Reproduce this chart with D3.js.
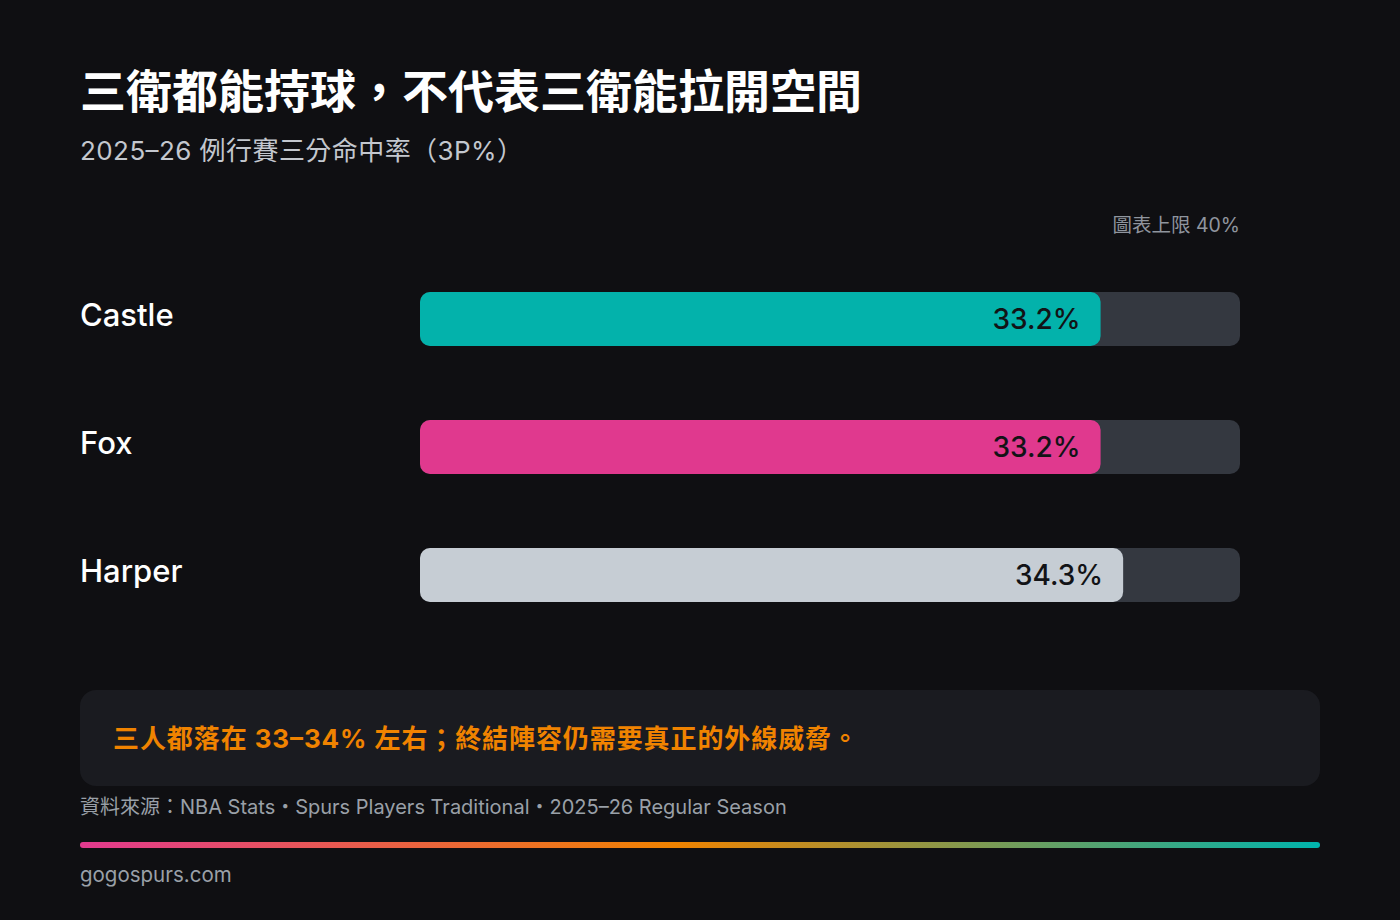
<!DOCTYPE html>
<html>
<head>
<meta charset="utf-8">
<script src="https://cdn.jsdelivr.net/npm/d3@7"></script>
<style>
  html, body { margin: 0; padding: 0; background: #0f0f12; }
  svg { display: block; }
  text { font-family: Inter, "Noto Sans CJK TC", "Noto Sans", sans-serif; }
</style>
</head>
<body>
<svg id="chart" width="1400" height="920"></svg>
<script>
const players = ["Castle", "Fox", "Harper"];
const threePct = [33.2, 33.2, 34.3];
const barColors = ["#03b2ab", "#e0398e", "#c6cdd4"];
const axisMax = 40;
const titleText = "三衛都能持球，不代表三衛能拉開空間";
const subtitleText = "2025–26 例行賽三分命中率（3P%）";
const capText = "圖表上限 40%";
const noteText = "三人都落在 33–34% 左右；終結陣容仍需要真正的外線威脅。";
const sourceText = "資料來源：NBA Stats・Spurs Players Traditional・2025–26 Regular Season";
const brandText = "gogospurs.com";

const svg = d3.select("#chart");
svg.append("rect").attr("width", 1400).attr("height", 920).attr("fill", "#0f0f12");

// Title + subtitle
svg.append("text").attr("x", 80).attr("y", 108)
  .attr("fill", "#ffffff").attr("font-size", 46).attr("font-weight", 700)
  .text(titleText);
svg.append("text").attr("x", 80).attr("y", 160)
  .attr("fill", "#c3c7ce").attr("font-size", 26)
  .attr("textLength", 443).attr("lengthAdjust", "spacing")
  .text(subtitleText);

// Scales
const x = d3.scaleLinear().domain([0, axisMax]).range([420, 1240]);
const y = d3.scaleBand().domain(players).range([292, 602]).paddingInner(74 / 128).paddingOuter(0);

svg.append("text").attr("x", x(axisMax)).attr("y", 232)
  .attr("text-anchor", "end").attr("fill", "#8f959e").attr("font-size", 19.5)
  .text(capText);

const data = players.map((p, i) => ({ name: p, value: threePct[i], color: barColors[i] }));
const rows = svg.append("g").selectAll("g").data(data).join("g");

rows.append("rect")
  .attr("x", x(0)).attr("y", d => y(d.name))
  .attr("width", x(axisMax) - x(0)).attr("height", y.bandwidth())
  .attr("rx", 10).attr("fill", "#343840");

rows.append("rect")
  .attr("x", x(0)).attr("y", d => y(d.name))
  .attr("width", d => x(d.value) - x(0)).attr("height", y.bandwidth())
  .attr("rx", 10).attr("fill", d => d.color);

rows.append("text")
  .attr("x", 80).attr("y", d => y(d.name) + 34)
  .attr("fill", "#ffffff").attr("font-size", 31).attr("font-weight", 500)
  .text(d => d.name);

rows.append("text")
  .attr("x", d => x(d.value) - 20).attr("y", d => y(d.name) + 37)
  .attr("text-anchor", "end").attr("fill", "#121316").attr("font-size", 28).attr("font-weight", 500)
  .text(d => d.value.toFixed(1) + "%");

// Callout
svg.append("rect").attr("x", 80).attr("y", 690).attr("width", 1240).attr("height", 96)
  .attr("rx", 16).attr("fill", "#1a1b20");
svg.append("text").attr("x", 113).attr("y", 748)
  .attr("fill", "#f08300").attr("font-size", 26).attr("font-weight", 700)
  .attr("textLength", 745).attr("lengthAdjust", "spacing")
  .text(noteText);

// Source
svg.append("text").attr("x", 80).attr("y", 814)
  .attr("fill", "#9aa0a8").attr("font-size", 20)
  .text(sourceText);

// Gradient rule
const defs = svg.append("defs");
const grad = defs.append("linearGradient").attr("id", "rule").attr("x1", "0%").attr("x2", "100%");
grad.append("stop").attr("offset", "0%").attr("stop-color", "#e23a8f");
grad.append("stop").attr("offset", "48%").attr("stop-color", "#f08300");
grad.append("stop").attr("offset", "100%").attr("stop-color", "#00b4ad");
svg.append("rect").attr("x", 80).attr("y", 842).attr("width", 1240).attr("height", 6)
  .attr("rx", 3).attr("fill", "url(#rule)");

svg.append("text").attr("x", 80).attr("y", 882)
  .attr("fill", "#9aa0a8").attr("font-size", 20.5)
  .text(brandText);
</script>
</body>
</html>
